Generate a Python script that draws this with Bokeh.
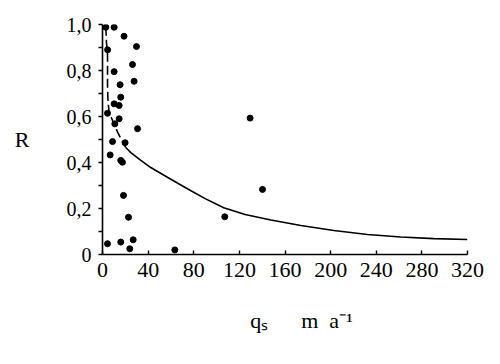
from bokeh.plotting import figure
from bokeh.models import Range1d, FixedTicker, CustomJSTickFormatter, ColumnDataSource
from bokeh.embed import file_html
from bokeh.resources import INLINE

# ---- data ----
point_q = [2.9, 10.2, 18.9, 29.8, 4.5, 26.3, 10.2, 27.7, 15.4, 16.0, 10.2, 14.6, 4.4, 14.6,
           10.8, 30.7, 8.8, 19.8, 6.7, 16.0, 17.5, 18.4, 22.8, 4.4, 16.0, 26.9, 23.9, 63.4,
           107.2, 129.4, 140.3]
point_R = [0.988, 0.988, 0.949, 0.904, 0.89, 0.826, 0.795, 0.753, 0.738, 0.684, 0.655, 0.648,
           0.614, 0.59, 0.568, 0.547, 0.491, 0.486, 0.433, 0.409, 0.401, 0.257, 0.162, 0.047,
           0.054, 0.064, 0.025, 0.02, 0.164, 0.593, 0.283]

curve_q = [2.9, 3.5, 4.4, 4.4, 4.8, 5.8, 9.9, 13.4, 20.4, 24.8, 33.6, 42.3, 57.3, 74.8,
           90.0, 106.3, 125.0, 147.6, 173.9, 202.8, 232.3, 261.5, 290.5, 320]
curve_R = [0.99, 0.92, 0.874, 0.735, 0.67, 0.617, 0.57, 0.53, 0.465, 0.443, 0.409, 0.378,
           0.335, 0.285, 0.243, 0.203, 0.174, 0.150, 0.126, 0.104, 0.087, 0.076, 0.069, 0.065]
dash_end = 9  # curve points drawn dashed (upper part)

x_ticks = [0, 40, 80, 120, 160, 200, 240, 280, 320]
y_ticks = [0, 0.2, 0.4, 0.6, 0.8, 1.0]
y_minor = [0.1, 0.3, 0.5, 0.7, 0.9]

x_title = "\u2003\u2002q\u209b\u2003\u2002m\u2002a\u207b\u00b9"
y_title = "R"

FONT = "Liberation Sans Narrow"
W, H = 492, 356

p = figure(width=W, height=H, output_backend="svg", toolbar_location=None,
           x_range=Range1d(0, 320), y_range=Range1d(0, 1.0),
           min_border_left=102, min_border_right=25, min_border_top=24, min_border_bottom=102)
p.outline_line_color = None
p.grid.visible = False
p.background_fill_color = "white"
p.border_fill_color = "white"

# axes
xa = p.xaxis[0]
xa.ticker = FixedTicker(ticks=x_ticks)
xa.major_tick_in = 4
xa.major_tick_out = 0
xa.minor_tick_in = 0
xa.minor_tick_out = 0
xa.axis_line_width = 1.6
xa.major_tick_line_width = 1.4
xa.major_label_standoff = 8
xa.major_label_text_font = FONT
xa.major_label_text_font_size = "22px"
xa.major_label_text_color = "black"
xa.axis_line_color = "black"
xa.axis_label = x_title
xa.axis_label_text_font = FONT
xa.axis_label_text_font_size = "22px"
xa.axis_label_text_font_style = "normal"
xa.axis_label_text_color = "black"
xa.axis_label_standoff = 28

ya = p.yaxis[0]
ya.ticker = FixedTicker(ticks=y_ticks, minor_ticks=y_minor)
ya.formatter = CustomJSTickFormatter(code="if (Math.abs(tick) < 1e-9) { return '0'; } return tick.toFixed(1).replace('.', ',');")
ya.major_tick_in = 0
ya.major_tick_out = 4
ya.minor_tick_in = 0
ya.minor_tick_out = 4
ya.axis_line_width = 1.6
ya.major_tick_line_width = 1.4
ya.minor_tick_line_width = 1.4
ya.minor_tick_line_color = "black"
ya.major_label_standoff = 7
ya.major_label_text_font = FONT
ya.major_label_text_font_size = "20px"
ya.major_label_text_color = "black"
ya.axis_line_color = "black"
ya.axis_label = y_title
ya.axis_label_orientation = "horizontal"
ya.axis_label_text_font = FONT
ya.axis_label_text_font_size = "22px"
ya.axis_label_text_font_style = "normal"
ya.axis_label_text_color = "black"
ya.axis_label_standoff = 34

# curve
p.line(curve_q[:dash_end], curve_R[:dash_end], line_color="black", line_width=1.6,
       line_dash="9 4")
p.line(curve_q[dash_end - 1:], curve_R[dash_end - 1:], line_color="black", line_width=1.6)

# points
src = ColumnDataSource(dict(q=point_q, R=point_R))
p.scatter("q", "R", source=src, size=6, fill_color="black", line_color="black")

open("out.html", "w").write(file_html(p, INLINE))
